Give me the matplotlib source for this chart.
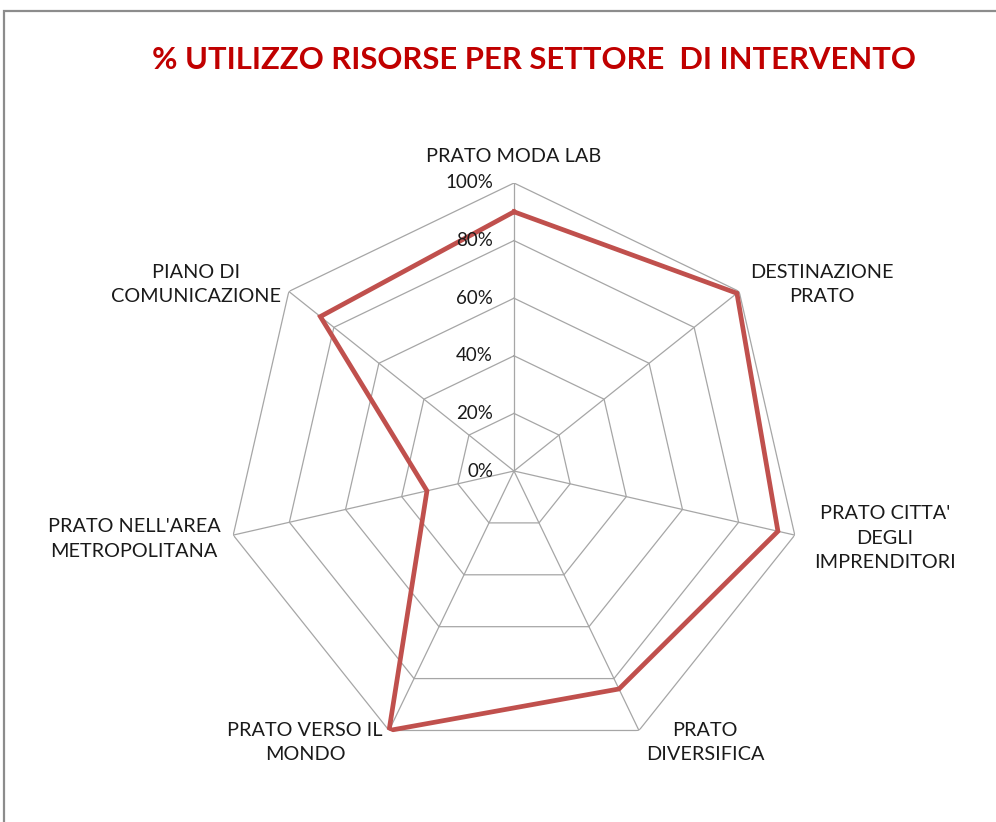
import numpy as np
import matplotlib.pyplot as plt
from matplotlib.patches import Rectangle

plt.rcParams['font.family'] = ['Lato', 'DejaVu Sans']

categories = ["PRATO MODA LAB", "DESTINAZIONE\nPRATO", "PRATO CITTA'\nDEGLI\nIMPRENDITORI",
              "PRATO\nDIVERSIFICA", "PRATO VERSO IL\nMONDO", "PRATO NELL'AREA\nMETROPOLITANA",
              "PIANO DI\nCOMUNICAZIONE"]
values = [0.90, 0.99, 0.94, 0.84, 1.00, 0.31, 0.86]
rings = [0.0, 0.2, 0.4, 0.6, 0.8, 1.0]
ring_labels = ["0%", "20%", "40%", "60%", "80%", "100%"]

# label offsets (pixels) from the outer vertex of each spoke
label_offsets = [(0, 27), (83, 7), (90, -3), (66, -12), (-84, -12), (-99, -4), (-93, 7)]

W, H = 996, 822
fig = plt.figure(figsize=(W / 100, H / 100), dpi=100)

# chart frame
fig.patches.append(Rectangle((4 / W, -0.05), 1.2, 1 - 11 / H + 0.05, transform=fig.transFigure,
                             fill=False, edgecolor='#8c8c8c', linewidth=1.6))

cx, cy, R = 514, 471, 288
ax = fig.add_axes([(cx - R) / W, (H - cy - R) / H, 2 * R / W, 2 * R / H], projection='polar')
ax.set_theta_zero_location('N')
ax.set_theta_direction(-1)
ax.set_ylim(0, 1)
ax.grid(False)
ax.set_xticks([])
ax.set_yticks([])
ax.spines['polar'].set_visible(False)
ax.patch.set_alpha(0)

n = len(categories)
theta = np.linspace(0, 2 * np.pi, n, endpoint=False)
theta_closed = np.append(theta, theta[0])

grid_color = '#a6a6a6'
for r in rings[1:]:
    ax.plot(theta_closed, [r] * (n + 1), color=grid_color, lw=0.9, zorder=1)
for t in theta:
    ax.plot([t, t], [0, 1], color=grid_color, lw=0.9, zorder=1)

ax.plot(theta_closed, values + values[:1], color='#c0504d', lw=3.4, zorder=3,
        solid_joinstyle='miter')

for r, lab in zip(rings, ring_labels):
    ax.annotate(lab, xy=(0, r), xytext=(-21, 0), textcoords='offset pixels',
                ha='right', va='center', fontsize=13.5, color='#1a1a1a', annotation_clip=False)

for t, lab, off in zip(theta, categories, label_offsets):
    ax.annotate(lab, xy=(t, 1), xytext=off, textcoords='offset pixels',
                ha='center', va='center', fontsize=14.3, color='#1a1a1a',
                linespacing=1.55, annotation_clip=False)

fig.text(534 / W, 1 - 60 / H, "% UTILIZZO RISORSE PER SETTORE  DI INTERVENTO",
         ha='center', va='center', fontsize=22.3, fontweight='bold', color='#c00000')

fig.savefig('out.png', dpi=100)
